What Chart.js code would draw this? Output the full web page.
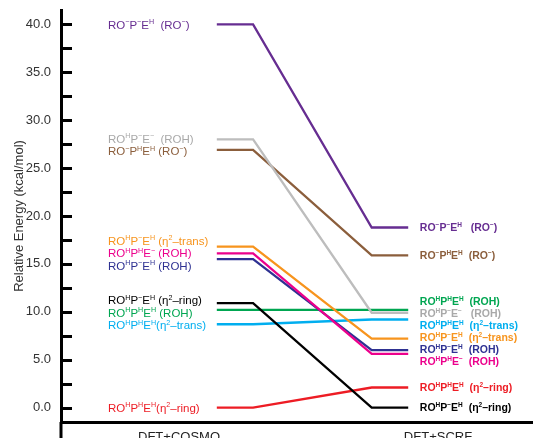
<!DOCTYPE html>
<html>
<head>
<meta charset="utf-8">
<script src="https://cdn.jsdelivr.net/npm/chart.js@4.4.0/dist/chart.umd.min.js"></script>
<style>
html, body { margin: 0; padding: 0; background: #fff; }
#wrap { width: 533px; height: 438px; }
</style>
</head>
<body>
<div id="wrap"><canvas id="energyChart"></canvas></div>
<script>
// stages on the x axis
const stages = ['DFT+COSMO', 'DFT+SCRF'];

// species, '^' marks the next char as superscript
const species = [
    'RO^\u2212P^\u2212E^H  (RO^\u2212)',
    'RO^HP^\u2212E^\u2212  (ROH)',
    'RO^\u2212P^HE^H (RO^\u2212)',
    'RO^HP^\u2212E^H (\u03B7^2\u2013trans)',
    'RO^HP^HE^\u2212 (ROH)',
    'RO^HP^\u2212E^H (ROH)',
    'RO^HP^\u2212E^H (\u03B7^2\u2013ring)',
    'RO^HP^HE^H (ROH)',
    'RO^HP^HE^H(\u03B7^2\u2013trans)',
    'RO^HP^HE^H(\u03B7^2\u2013ring)'
];

// relative energies, kcal/mol
const cosmoEnergy = [40.0, 28.0, 26.9, 16.8, 16.1, 15.5, 10.9, 10.2, 8.7, 0.0];
const scrfEnergy  = [18.8,  9.9, 15.9,  7.2,  5.6,  6.0,  0.0, 10.2, 9.2, 2.1];

const colors = ['#662d91', '#bdbdbd', '#8b5e3c', '#f7941d', '#ec008c',
                '#2e3192', '#000000', '#00a651', '#00aeef', '#ed1c24'];
const textColors = ['#662d91', '#a9a9a9', '#8b5e3c', '#f7941d', '#ec008c',
                    '#2e3192', '#000000', '#00a651', '#00aeef', '#ed1c24'];

// where the level bars start/end along x (stage 0 = COSMO, 1 = SCRF)
const levelX = [0.146, 0.286, 0.744, 0.885];
const labelX = [-0.274, 0.93];

const FAMILY = "'Liberation Sans', Arial, Helvetica, sans-serif";
Chart.defaults.font.family = FAMILY;

function near(v, step) {
    return Math.abs(v / step - Math.round(v / step)) < 1e-6;
}

function drawRich(ctx, text, x, y, size, weight, color) {
    ctx.fillStyle = color;
    ctx.textBaseline = 'alphabetic';
    ctx.textAlign = 'left';
    const base = y + size * 0.36;
    let cx = x;
    for (let i = 0; i < text.length; i++) {
        let ch = text[i];
        let sup = false;
        if (ch === '^') { sup = true; ch = text[++i]; }
        const fs = sup ? size * 0.62 : size;
        ctx.font = weight + ' ' + fs + 'px ' + FAMILY;
        ctx.fillText(ch, cx, sup ? base - size * 0.38 : base);
        cx += ctx.measureText(ch).width;
    }
}

// spread overlapping labels around the mean of their lines
function spread(ys, gap) {
    const order = ys.map((v, i) => i).sort((a, b) => ys[a] - ys[b]);
    let groups = order.map(i => ({ idx: [i], sum: ys[i] }));
    let merged = true;
    while (merged) {
        merged = false;
        for (let g = 0; g < groups.length - 1; g++) {
            const a = groups[g], b = groups[g + 1];
            const aBottom = a.sum / a.idx.length + (a.idx.length - 1) * gap / 2;
            const bTop = b.sum / b.idx.length - (b.idx.length - 1) * gap / 2;
            if (bTop - aBottom < gap) {
                groups.splice(g, 2, { idx: a.idx.concat(b.idx), sum: a.sum + b.sum });
                merged = true;
                break;
            }
        }
    }
    const out = [];
    groups.forEach(g => {
        const start = g.sum / g.idx.length - (g.idx.length - 1) * gap / 2;
        g.idx.forEach((i, k) => { out[i] = start + k * gap; });
    });
    return out;
}

const levelLabels = {
    id: 'levelLabels',
    afterDraw(chart) {
        const { ctx, chartArea, scales: { x, y } } = chart;
        ctx.save();

        // tick marks point inward, minor every 2.5
        ctx.strokeStyle = '#000';
        ctx.lineWidth = 3;
        y.ticks.forEach(t => {
            if (t.value < -0.01 || t.value > 40.01 || !near(t.value, 2.5)) return;
            const py = Math.round(y.getPixelForValue(t.value)) + 0.5;
            ctx.beginPath();
            ctx.moveTo(chartArea.left, py);
            ctx.lineTo(chartArea.left + 11, py);
            ctx.stroke();
        });
        // y axis runs past the x axis
        ctx.beginPath();
        ctx.moveTo(chartArea.left, chartArea.bottom);
        ctx.lineTo(chartArea.left, chart.height);
        ctx.stroke();

        const leftY = spread(cosmoEnergy.map(v => y.getPixelForValue(v)), 12.5);
        const rightY = spread(scrfEnergy.map(v => y.getPixelForValue(v)), 12);
        const lx = x.getPixelForValue(labelX[0]);
        const rx = x.getPixelForValue(labelX[1]);
        species.forEach((name, i) => {
            drawRich(ctx, name, lx, leftY[i], 11.5, 'normal', textColors[i]);
            drawRich(ctx, name.replace(/ ?\(/, '  ('), rx, rightY[i], 10.5, 'bold', textColors[i]);
        });
        ctx.restore();
    }
};

new Chart(document.getElementById('energyChart'), {
    type: 'line',
    data: {
        datasets: species.map((name, i) => ({
            label: name,
            data: [
                { x: levelX[0], y: cosmoEnergy[i] },
                { x: levelX[1], y: cosmoEnergy[i] },
                { x: levelX[2], y: scrfEnergy[i] },
                { x: levelX[3], y: scrfEnergy[i] }
            ],
            borderColor: colors[i],
            borderWidth: 2.3,
            borderJoinStyle: 'miter',
            pointRadius: 0,
            tension: 0,
            fill: false
        }))
    },
    options: {
        responsive: true,
        maintainAspectRatio: false,
        animation: false,
        layout: { padding: { top: 10, right: 0, bottom: 0, left: 0 } },
        plugins: {
            legend: { display: false },
            tooltip: { enabled: false }
        },
        scales: {
            x: {
                type: 'linear',
                min: -0.4556,
                max: 1.3668,
                afterBuildTicks: axis => { axis.ticks = stages.map((s, i) => ({ value: i })); },
                afterFit: axis => {
                    axis.height = 16;
                    axis.paddingLeft = 0;
                    axis.paddingRight = 0;
                },
                grid: { display: false, drawTicks: false },
                border: { display: true, color: '#000', width: 3 },
                ticks: {
                    padding: 8,
                    color: '#222',
                    font: { size: 13 },
                    maxRotation: 0,
                    autoSkip: false,
                    callback: v => stages[Math.round(v)] || ''
                }
            },
            y: {
                min: -1.5,
                max: 41.5,
                afterFit: axis => {
                    axis.width = 61;
                    axis.paddingTop = 0;
                    axis.paddingBottom = 0;
                },
                grid: { display: false, drawTicks: false },
                border: { display: true, color: '#000', width: 3 },
                ticks: {
                    stepSize: 2.5,
                    includeBounds: false,
                    autoSkip: false,
                    padding: 10,
                    color: '#333',
                    font: { size: 13 },
                    callback: v => (v > -0.01 && near(v, 5)) ? Math.round(v).toFixed(1) : ''
                },
                title: {
                    display: true,
                    text: 'Relative Energy (kcal/mol)',
                    color: '#333',
                    font: { size: 13 },
                    padding: { top: 12, bottom: 0 }
                }
            }
        }
    },
    plugins: [levelLabels]
});
</script>
</body>
</html>
